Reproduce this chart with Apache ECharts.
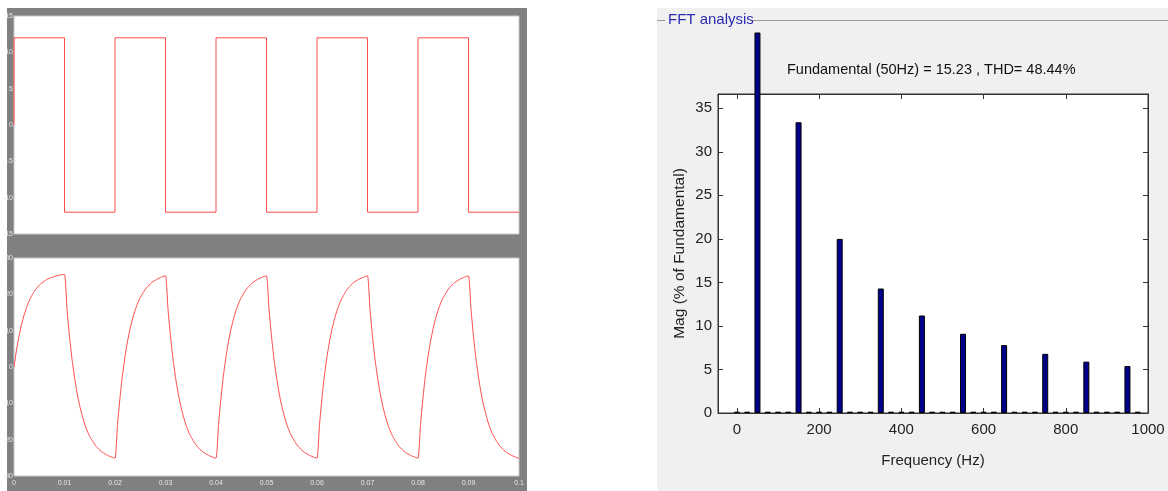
<!DOCTYPE html>
<html>
<head>
<meta charset="utf-8">
<script src="https://cdn.jsdelivr.net/npm/echarts@6/dist/echarts.min.js"></script>
<style>
html,body{margin:0;padding:0;background:#fff;}
#c{width:1168px;height:491px;}
</style>
</head>
<body>
<div id="c"></div>
<script>
// ---------- DATA ----------
// Top-left: square-wave voltage (V) vs time (s)
const squareTimes  = [0, 0, 0.01, 0.01, 0.02, 0.02, 0.03, 0.03, 0.04, 0.04, 0.05, 0.05, 0.06, 0.06, 0.07, 0.07, 0.08, 0.08, 0.09, 0.09, 0.1];
const squareValues = [0, 12, 12, -12, -12, 12, 12, -12, -12, 12, 12, -12, -12, 12, 12, -12, -12, 12, 12, -12, -12];

// Bottom-left: response, sampled every 0.5 ms
const capTimeStep = 0.0005;
const capFirstRise = [0, 4.7, 8.6, 11.7, 14.3, 16.4, 18.2, 19.6, 20.8, 21.7, 22.5, 23.1, 23.6, 24.1, 24.4, 24.7, 24.9, 25.1, 25.3, 25.4, 25.5];
const capFallHalf = [15.8, 8.3, 2.0, -3.0, -7.2, -10.6, -13.4, -15.7, -17.6, -19.1, -20.3, -21.4, -22.2, -22.9, -23.5, -23.9, -24.3, -24.6, -24.9, -25.1];
const capRiseHalf = [-15.8, -8.3, -2.0, 3.0, 7.2, 10.6, 13.4, 15.7, 17.6, 19.1, 20.3, 21.4, 22.2, 22.9, 23.5, 23.9, 24.3, 24.6, 24.9, 25.1];
const capHalfOrder = ['fall', 'rise', 'fall', 'rise', 'fall', 'rise', 'fall', 'rise', 'fall'];

const timeTickLabels = ['0', '0.01', '0.02', '0.03', '0.04', '0.05', '0.06', '0.07', '0.08', '0.09', '0.1'];

// Right: FFT analysis
const fftFreq = [0, 25, 50, 75, 100, 125, 150, 175, 200, 225, 250, 275, 300, 325, 350, 375, 400, 425, 450, 475,
                 500, 525, 550, 575, 600, 625, 650, 675, 700, 725, 750, 775, 800, 825, 850, 875, 900, 925, 950, 975];
const fftMag  = [0.15, 0.15, 100, 0.15, 0.15, 0.15, 33.4, 0.15, 0.15, 0.15, 20.0, 0.15, 0.15, 0.15, 14.3, 0.15, 0.15, 0.15, 11.2, 0.15,
                 0.15, 0.15, 9.1, 0.15, 0.15, 0.15, 7.8, 0.15, 0.15, 0.15, 6.8, 0.15, 0.15, 0.15, 5.9, 0.15, 0.15, 0.15, 5.4, 0.15];
const freqTicks = [0, 200, 400, 600, 800, 1000];
const magTicks = [0, 5, 10, 15, 20, 25, 30, 35];
const fftTitle = 'FFT analysis';
const fftInfo = 'Fundamental (50Hz) = 15.23 , THD= 48.44%';
const fftXName = 'Frequency (Hz)';
const fftYName = 'Mag (% of Fundamental)';

// ---------- BUILD ----------
const squareData = squareTimes.map((t, i) => [t, squareValues[i]]);
let capValues = capFirstRise.slice();
capHalfOrder.forEach(h => { capValues = capValues.concat(h === 'fall' ? capFallHalf : capRiseHalf); });
const capData = capValues.map((v, i) => [+(i * capTimeStep).toFixed(4), v]);
const fftData = fftFreq.map((f, i) => [f, fftMag[i]]);

const SANS = "'Liberation Sans', Arial, sans-serif";
const FMIN = -46, FMAX = 1000;

const tinyLabel = { fontSize: 7, color: '#e6e6e6', fontFamily: SANS };

const chart = echarts.init(document.getElementById('c'), null, { renderer: 'canvas' });
chart.setOption({
  animation: false,
  backgroundColor: '#ffffff',
  graphic: [
    { type: 'rect', z: -10, shape: { x: 7, y: 8, width: 520, height: 483 }, style: { fill: '#808080' } },
    { type: 'rect', z: -10, shape: { x: 657, y: 8, width: 511, height: 483 }, style: { fill: '#f0f0f0' } },
    { type: 'line', z: -5, shape: { x1: 657, y1: 20.5, x2: 665, y2: 20.5 }, style: { stroke: '#9a9a9a', lineWidth: 1 } },
    { type: 'line', z: -5, shape: { x1: 752, y1: 20.5, x2: 1168, y2: 20.5 }, style: { stroke: '#9a9a9a', lineWidth: 1 } },
    { type: 'text', z: 5, x: 668, y: 20, style: { text: fftTitle, fill: '#2c2cb0', font: '15px ' + SANS, verticalAlign: 'middle' } },
    { type: 'text', z: 5, x: 787, y: 70, style: { text: fftInfo, fill: '#111', font: '14.5px ' + SANS, verticalAlign: 'middle' } }
  ],
  grid: [
    { left: 14, top: 16, width: 505, height: 218, show: true, backgroundColor: '#fff', borderColor: '#c8c8c8', borderWidth: 1, outerBoundsMode: 'none' },
    { left: 14, top: 258, width: 505, height: 218, show: true, backgroundColor: '#fff', borderColor: '#c8c8c8', borderWidth: 1, outerBoundsMode: 'none' },
    { left: 718, top: 33, width: 430, height: 380, show: false, outerBoundsMode: 'none' },
    { left: 718, top: 94, width: 430, height: 319, show: true, backgroundColor: '#fff', borderColor: '#333', borderWidth: 1, outerBoundsMode: 'none' }
  ],
  xAxis: [
    { gridIndex: 0, type: 'value', min: 0, max: 0.1, interval: 0.01, axisLine: { show: false }, axisTick: { show: false }, axisLabel: { show: false }, splitLine: { show: false } },
    { gridIndex: 1, type: 'value', min: 0, max: 0.1, interval: 0.01, axisLine: { show: false }, axisTick: { show: false }, splitLine: { show: false },
      axisLabel: Object.assign({ margin: 4, formatter: (v) => timeTickLabels[Math.round(v * 100)] }, tinyLabel) },
    { gridIndex: 2, type: 'value', min: FMIN, max: FMAX, show: false },
    { gridIndex: 3, type: 'value', min: FMIN, max: FMAX, position: 'bottom',
      axisLine: { show: true, onZero: false, lineStyle: { color: '#333' } },
      axisTick: { show: true, inside: true, length: 5, customValues: freqTicks, lineStyle: { color: '#333' } },
      axisLabel: { show: true, customValues: freqTicks, formatter: (v) => String(v), fontSize: 15, color: '#222', fontFamily: SANS, margin: 9 },
      splitLine: { show: false },
      name: fftXName, nameLocation: 'middle', nameGap: 40, nameTextStyle: { fontSize: 15, color: '#222', fontFamily: SANS } },
    { gridIndex: 3, type: 'value', min: FMIN, max: FMAX, position: 'top',
      axisLine: { show: true, onZero: false, lineStyle: { color: '#333' } },
      axisTick: { show: true, inside: true, length: 5, customValues: freqTicks, lineStyle: { color: '#333' } },
      axisLabel: { show: false }, splitLine: { show: false } }
  ],
  yAxis: [
    { gridIndex: 0, type: 'value', min: -15, max: 15, interval: 5, axisLine: { show: false }, axisTick: { show: false }, splitLine: { show: false },
      axisLabel: Object.assign({ margin: 1 }, tinyLabel) },
    { gridIndex: 1, type: 'value', min: -30, max: 30, interval: 10, axisLine: { show: false }, axisTick: { show: false }, splitLine: { show: false },
      axisLabel: Object.assign({ margin: 1 }, tinyLabel) },
    { gridIndex: 2, type: 'value', min: 0, max: 43.65, show: false },
    { gridIndex: 3, type: 'value', min: 0, max: 36.64, position: 'left',
      axisLine: { show: true, onZero: false, lineStyle: { color: '#333' } },
      axisTick: { show: true, inside: true, length: 5, customValues: magTicks, lineStyle: { color: '#333' } },
      axisLabel: { show: true, customValues: magTicks, fontSize: 15, color: '#222', fontFamily: SANS, margin: 6 },
      splitLine: { show: false },
      name: fftYName, nameLocation: 'middle', nameGap: 30, nameRotate: 90, nameTextStyle: { fontSize: 15.5, color: '#222', fontFamily: SANS } },
    { gridIndex: 3, type: 'value', min: 0, max: 36.64, position: 'right',
      axisLine: { show: true, onZero: false, lineStyle: { color: '#333' } },
      axisTick: { show: true, inside: true, length: 5, customValues: magTicks, lineStyle: { color: '#333' } },
      axisLabel: { show: false }, splitLine: { show: false } }
  ],
  series: [
    { type: 'line', xAxisIndex: 0, yAxisIndex: 0, data: squareData, showSymbol: false, symbol: 'none',
      lineStyle: { color: '#ff4a4a', width: 1 }, z: 3 },
    { type: 'line', xAxisIndex: 1, yAxisIndex: 1, data: capData, showSymbol: false, symbol: 'none', smooth: 0.2,
      lineStyle: { color: '#ff4a4a', width: 1 }, z: 3 },
    { type: 'bar', xAxisIndex: 2, yAxisIndex: 2, data: fftData, barWidth: 6, clip: true,
      itemStyle: { color: '#00008b', borderColor: '#000', borderWidth: 1 }, z: 5 }
  ]
});
</script>
</body>
</html>
